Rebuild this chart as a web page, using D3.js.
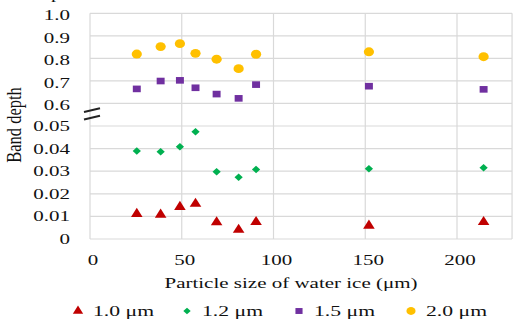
<!DOCTYPE html>
<html>
<head>
<meta charset="utf-8">
<script src="https://cdn.jsdelivr.net/npm/d3@7"></script>
<style>
  body { margin: 0; background: #fff; }
  text { font-family: "Liberation Serif", "Times New Roman", serif; fill: #111; }
</style>
</head>
<body>
<svg width="513" height="324"></svg>
<script>
const sizes = [25.5, 38.5, 49, 57.5, 69, 81, 90.5, 152, 214.5];
const band10 = [0.0111, 0.0108, 0.0142, 0.0156, 0.0074, 0.0041, 0.0075, 0.0059, 0.0075];
const band12 = [0.0389, 0.0386, 0.0408, 0.0475, 0.0298, 0.0273, 0.0308, 0.0311, 0.0315];
const band15 = [0.664, 0.699, 0.702, 0.669, 0.641, 0.622, 0.683, 0.676, 0.662];
const band20 = [0.819, 0.852, 0.865, 0.822, 0.796, 0.754, 0.818, 0.829, 0.807];
const xTicks = [0, 50, 100, 150, 200];
const lowTicks = [0, 0.01, 0.02, 0.03, 0.04, 0.05];
const highTicks = [0.6, 0.7, 0.8, 0.9, 1.0];
const seriesNames = ["1.0 μm", "1.2 μm", "1.5 μm", "2.0 μm"];

const svg = d3.select("svg");
const left = 90, right = 512;
const sx = 1.4; // the picture is stretched sideways

const x = d3.scaleLinear().domain([0, 230]).range([left, left + 230 * 1.835]);
// broken axis: two linear pieces
const yLow = d3.scaleLinear().domain([0, 0.05]).range([239, 126]);
const yHigh = d3.scaleLinear().domain([0.6, 1.0]).range([103.3, 13.3]);
const y = (v) => (v <= 0.1 ? yLow(v) : yHigh(v));

const grid = "#d9d9d9";

svg.append("g")
  .selectAll("line")
  .data(lowTicks.concat(highTicks))
  .join("line")
  .attr("x1", left).attr("x2", right)
  .attr("y1", (d) => y(d)).attr("y2", (d) => y(d))
  .attr("stroke", grid).attr("stroke-width", 1.2);

svg.append("g")
  .selectAll("line")
  .data(xTicks.concat([230]))
  .join("line")
  .attr("x1", (d) => x(d)).attr("x2", (d) => x(d))
  .attr("y1", yHigh(1.0)).attr("y2", yLow(0))
  .attr("stroke", grid).attr("stroke-width", 1.2);

const fmtLow = (d) => (d === 0 ? "0" : d3.format(".2f")(d));
svg.append("g")
  .selectAll("text")
  .data(lowTicks)
  .join("text")
  .attr("transform", (d) => `translate(70,${yLow(d) + 5}) scale(${sx},1)`)
  .attr("text-anchor", "end").attr("font-size", 15)
  .text(fmtLow);
svg.append("g")
  .selectAll("text")
  .data(highTicks)
  .join("text")
  .attr("transform", (d) => `translate(70,${yHigh(d) + 6.8}) scale(${sx},1)`)
  .attr("text-anchor", "end").attr("font-size", 15)
  .text(d3.format(".1f"));

svg.append("g")
  .selectAll("text")
  .data(xTicks)
  .join("text")
  .attr("transform", (d) => `translate(${x(d) + 3},265) scale(${sx},1)`)
  .attr("text-anchor", "middle").attr("font-size", 15)
  .text((d) => d);

// break marks
svg.append("g")
  .selectAll("line")
  .data([0, 7.5])
  .join("line")
  .attr("x1", 84).attr("x2", 100)
  .attr("y1", (d) => 112 + d).attr("y2", (d) => 108.3 + d)
  .attr("stroke", "#222").attr("stroke-width", 2);

svg.append("text")
  .attr("transform", "translate(21,125) scale(1.25,1) rotate(-90)")
  .attr("text-anchor", "middle").attr("font-size", 16.5)
  .text("Band depth");
svg.append("text")
  .attr("transform", `translate(291,288) scale(${sx},1)`)
  .attr("text-anchor", "middle").attr("font-size", 15)
  .text("Particle size of water ice (μm)");
svg.append("text")
  .attr("transform", `translate(51,-1.5) scale(${sx},1)`)
  .attr("font-size", 15).text("p");

const series = [
  { name: seriesNames[0], vals: band10, color: "#C00000", sym: d3.symbolTriangle, size: 48, k: 1.1 },
  { name: seriesNames[1], vals: band12, color: "#00B050", sym: d3.symbolDiamond2, size: 36, k: 1.1 },
  { name: seriesNames[2], vals: band15, color: "#7030A0", sym: d3.symbolSquare, size: 44, k: 1.2 },
  { name: seriesNames[3], vals: band20, color: "#FFC000", sym: d3.symbolCircle, size: 62, k: 1.15 }
];

series.forEach((s) => {
  svg.append("g")
    .selectAll("path")
    .data(s.vals.map((v, i) => [sizes[i], v]))
    .join("path")
    .attr("transform", (d) => `translate(${x(d[0])},${y(d[1])}) scale(${s.k},1)`)
    .attr("d", d3.symbol(s.sym, s.size))
    .attr("fill", s.color);
});

const legendX = [78, 187, 299, 411];
const leg = svg.append("g")
  .selectAll("g")
  .data(series)
  .join("g")
  .attr("transform", (d, i) => `translate(${legendX[i]},311)`);
leg.append("path")
  .attr("transform", (d) => `scale(${d.k},1)`)
  .attr("d", (d) => d3.symbol(d.sym, d.size * 0.8)())
  .attr("fill", (d) => d.color);
leg.append("text")
  .attr("transform", `translate(15,5) scale(${sx},1)`)
  .attr("font-size", 15.5)
  .text((d) => d.name);
</script>
</body>
</html>
